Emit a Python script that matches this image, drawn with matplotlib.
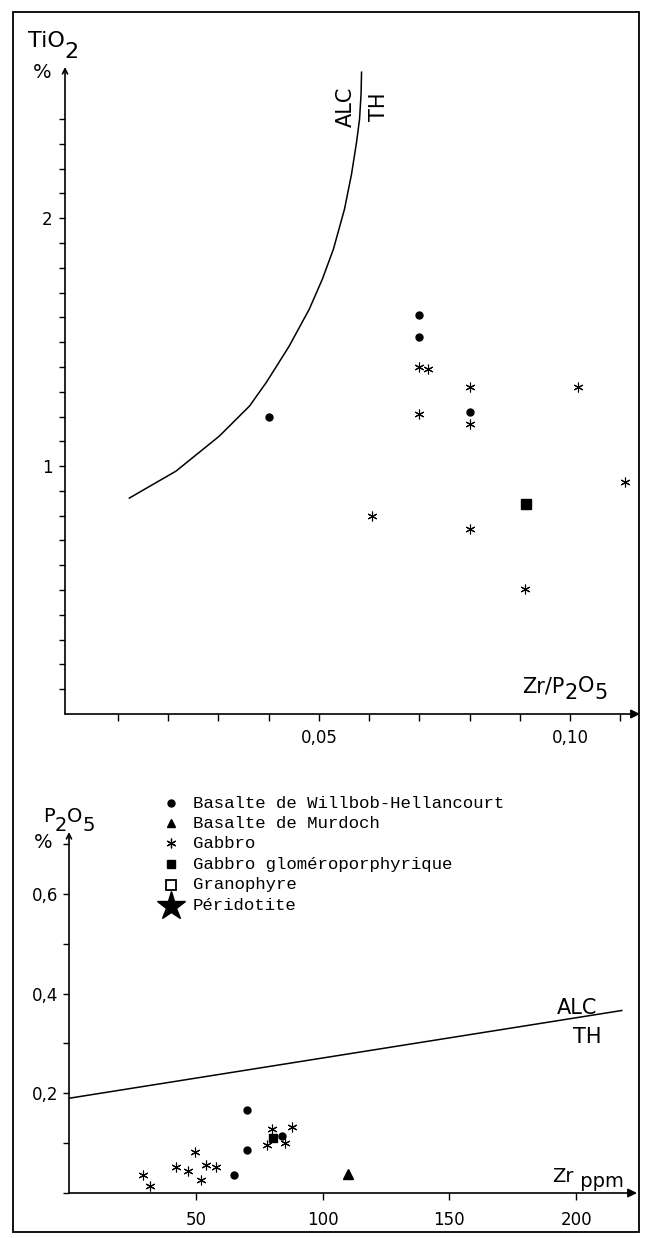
"""
TiO2 vs Zr/P2O5 and P2O5 vs Zr diagrams (ALC / TH discrimination).
"""

import matplotlib

matplotlib.use("Agg")
import matplotlib.pyplot as plt
from matplotlib.lines import Line2D
from matplotlib.patches import Rectangle


# ---- top panel: TiO2 (%) vs Zr/P2O5 ----
TOP_WH_X = [0.040, 0.070, 0.070, 0.080]
TOP_WH_Y = [1.20, 1.61, 1.52, 1.22]
TOP_GAB_X = [0.070, 0.0717, 0.080, 0.1015, 0.070, 0.080, 0.1109, 0.0605, 0.080, 0.0911]
TOP_GAB_Y = [1.40, 1.39, 1.32, 1.32, 1.21, 1.17, 0.935, 0.80, 0.746, 0.504]
TOP_GLOM_X = [0.0913]
TOP_GLOM_Y = [0.847]

# ALC / TH boundary curve (top)
TOP_CURVE_X = [0.0123, 0.0216, 0.0302, 0.0362, 0.0396, 0.0441, 0.0481, 0.0507,
               0.0529, 0.0551, 0.0565, 0.0575, 0.0581, 0.0584, 0.0585]
TOP_CURVE_Y = [0.871, 0.980, 1.121, 1.242, 1.339, 1.484, 1.633, 1.754,
               1.875, 2.036, 2.177, 2.306, 2.399, 2.500, 2.589]

TOP_XTICKS = [0.01, 0.02, 0.03, 0.04, 0.05, 0.06, 0.07, 0.08, 0.09, 0.10, 0.11]
TOP_XLABELS = ["", "", "", "", "0,05", "", "", "", "", "0,10", ""]
TOP_YTICKS = [round(0.1 * i, 1) for i in range(1, 25)]
TOP_YLABELS = {1.0: "1", 2.0: "2"}

# ---- bottom panel: P2O5 (%) vs Zr (ppm) ----
BOT_WH_X = [65, 70, 70, 84]
BOT_WH_Y = [0.036, 0.087, 0.166, 0.115]
BOT_MUR_X = [110]
BOT_MUR_Y = [0.039]
BOT_GAB_X = [29, 32, 42, 47, 49.5, 52, 54, 58, 78, 80, 85, 88]
BOT_GAB_Y = [0.036, 0.015, 0.052, 0.044, 0.082, 0.027, 0.056, 0.053,
             0.097, 0.128, 0.101, 0.133]
BOT_GLOM_X = [80.5]
BOT_GLOM_Y = [0.111]

BOT_LINE_X = [0, 218]
BOT_LINE_Y = [0.19, 0.366]

BOT_XTICKS = [50, 100, 150, 200]
BOT_XLABELS = ["50", "100", "150", "200"]
BOT_YTICKS = [0.0, 0.1, 0.2, 0.3, 0.4, 0.5, 0.6, 0.7]
BOT_YLABELS = ["", "", "0,2", "", "0,4", "", "0,6", ""]

LEGEND_LABELS = [
    "Basalte de Willbob-Hellancourt",
    "Basalte de Murdoch",
    "Gabbro",
    "Gabbro gloméroporphyrique",
    "Granophyre",
    "Péridotite",
]

W, H = 650, 1238
ASTER = (6, 2, 0)

fig = plt.figure(figsize=(W / 100, H / 100), dpi=100)

# overlay in pixel coordinates for frame, axis titles and legend
ov = fig.add_axes([0, 0, 1, 1])
ov.set_xlim(0, W)
ov.set_ylim(H, 0)
ov.axis("off")


def px_axes(left, top, right, bottom):
    return fig.add_axes([left / W, 1 - bottom / H, (right - left) / W, (bottom - top) / H])


def axis_arrows(ax, y_style="->"):
    for s in ax.spines.values():
        s.set_visible(False)
    ax.annotate("", xy=(1, 0), xytext=(0, 0), xycoords="axes fraction",
                arrowprops=dict(arrowstyle="-|>", lw=1.2, color="black", mutation_scale=13,
                                shrinkA=0, shrinkB=0))
    ax.annotate("", xy=(0, 1), xytext=(0, 0), xycoords="axes fraction",
                arrowprops=dict(arrowstyle=y_style, lw=1.2, color="black", mutation_scale=9,
                                shrinkA=0, shrinkB=0))
    ax.patch.set_visible(False)


def chem_label(x, y, parts, size):
    renderer = fig.canvas.get_renderer()
    cur = x
    for s, dy in parts:
        t = ov.text(cur, y + dy, s, fontsize=size, va="baseline", ha="left",
                    family="DejaVu Sans")
        cur += t.get_window_extent(renderer).width


# ---------------- top panel ----------------
ax1 = px_axes(65, 67, 640, 714)
ax1.set_xlim(-0.0005, 0.1139)
ax1.set_ylim(0, 2.61)
axis_arrows(ax1, "->")

ax1.plot(TOP_CURVE_X, TOP_CURVE_Y, color="black", lw=1.1, solid_joinstyle="round")
ax1.plot(TOP_WH_X, TOP_WH_Y, "o", color="black", ms=5)
ax1.plot(TOP_GAB_X, TOP_GAB_Y, marker=ASTER, ls="none", color="black", ms=7, mew=0.8)
ax1.plot(TOP_GLOM_X, TOP_GLOM_Y, "s", color="black", ms=7)

ax1.set_xticks(TOP_XTICKS, labels=TOP_XLABELS)
ax1.set_yticks(TOP_YTICKS, labels=[TOP_YLABELS.get(v, "") for v in TOP_YTICKS])
ax1.tick_params(axis="x", direction="out", length=5, width=1, pad=6, labelsize=12)
ax1.tick_params(axis="y", direction="out", length=4, width=1, pad=5, labelsize=12)

ax1.text(0.0553, 2.45, "ALC", rotation=90, ha="center", va="center", fontsize=15)
ax1.text(0.0620, 2.45, "TH", rotation=90, ha="center", va="center", fontsize=15)

chem_label(28, 47, [("TiO", 0), ("2", 11)], 16)
ov.text(33, 78, "%", fontsize=14, va="baseline")
chem_label(522, 692, [("Zr/P", 0), ("2", 7), ("O", 0), ("5", 7)], 15)

# ---------------- bottom panel ----------------
ax2 = px_axes(69, 832, 637, 1193)
ax2.set_xlim(0, 224)
ax2.set_ylim(0, 0.724)
axis_arrows(ax2, "->")

ax2.plot(BOT_LINE_X, BOT_LINE_Y, color="black", lw=1.1)
ax2.plot(BOT_WH_X, BOT_WH_Y, "o", color="black", ms=5)
ax2.plot(BOT_MUR_X, BOT_MUR_Y, "^", color="black", ms=7)
ax2.plot(BOT_GAB_X, BOT_GAB_Y, marker=ASTER, ls="none", color="black", ms=7, mew=0.8)
ax2.plot(BOT_GLOM_X, BOT_GLOM_Y, "s", color="black", ms=5.5)

ax2.set_xticks(BOT_XTICKS, labels=BOT_XLABELS)
ax2.set_yticks(BOT_YTICKS, labels=BOT_YLABELS)
ax2.tick_params(axis="x", direction="out", length=5, width=1, pad=8, labelsize=12)
ax2.tick_params(axis="y", direction="out", length=4, width=1, pad=4, labelsize=12)

ax2.text(200.5, 0.371, "ALC", ha="center", va="center", fontsize=15)
ax2.text(204.5, 0.313, "TH", ha="center", va="center", fontsize=15)

chem_label(43, 822, [("P", 0), ("2", 9), ("O", 0), ("5", 9)], 14)
ov.text(34, 848, "%", fontsize=14, va="baseline")
chem_label(552, 1182, [("Zr", 0), (" ppm", 5)], 14)

# legend drawn in pixel coordinates
leg_y = [803, 823, 843, 864, 885, 906]
leg_style = [
    dict(marker="o", ms=5, mfc="black"),
    dict(marker="^", ms=6, mfc="black"),
    dict(marker=ASTER, ms=7, mfc="black", mew=0.9),
    dict(marker="s", ms=6, mfc="black"),
    dict(marker="s", ms=7, mfc="white", mew=1.3),
    dict(marker="*", ms=21, mfc="black"),
]
for yy, lab, st in zip(leg_y, LEGEND_LABELS, leg_style):
    ov.add_line(Line2D([171], [yy], ls="none", color="black", **st))
    ov.text(193, yy, lab, fontsize=12.5, family="Liberation Mono", va="center", ha="left")

# outer frame
ov.add_patch(Rectangle((13, 12), 626, 1220, fill=False, lw=1.3, ec="black"))

fig.savefig("out.png", dpi=100)
